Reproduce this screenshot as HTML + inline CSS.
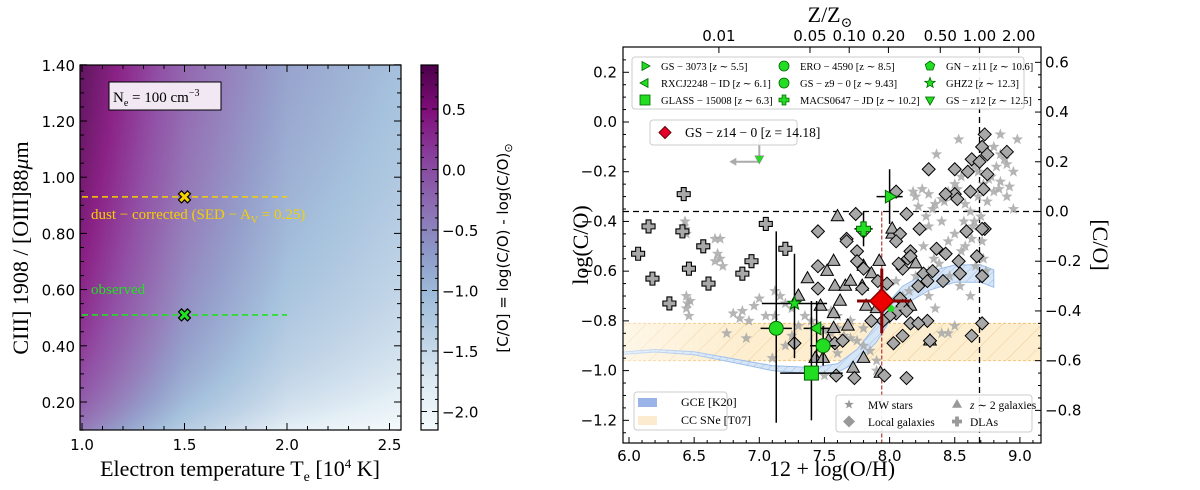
<!DOCTYPE html>
<html><head><meta charset="utf-8"><style>
html,body{margin:0;padding:0;background:#fff;}
#wrap{position:relative;width:1200px;height:490px;overflow:hidden;}
canvas{position:absolute;}
svg{position:absolute;left:0;top:0;}
.tk{font-family:"DejaVu Sans","Liberation Sans",sans-serif;font-size:15px;}
.sr{font-family:"Liberation Serif","DejaVu Serif",serif;}
</style></head><body>
<div id="wrap">
<canvas id="heat" width="321" height="365" style="left:80px;top:65px"></canvas>
<canvas id="cbar" width="17" height="365" style="left:421px;top:65px"></canvas>
<svg id="svg" width="1200" height="490" xmlns="http://www.w3.org/2000/svg"></svg>
</div>
<script>
// ---------- LEFT PANEL DATA ----------
const heatT = [1.0, 1.5, 2.0, 2.56];
const heatG = [0.65, -0.27, -0.85, -1.17];
const obsPoints = [{name:'dust-corrected', T:1.5, R:0.93, color:'#f5d000'},{name:'observed', T:1.5, R:0.51, color:'#22e022'}];
const leftXTicks = [1.0,1.5,2.0,2.5];
const leftYTicks = [0.2,0.4,0.6,0.8,1.0,1.2,1.4];
const cbarTicks = [0.5,0.0,-0.5,-1.0,-1.5,-2.0];

// ---------- RIGHT PANEL DATA ----------
const mwStarsOH = [6.43,6.43,6.44,6.42,6.66,6.70,6.68,6.70,6.66,6.72,6.44,6.45,6.44,6.46,6.47,6.80,6.85,6.92,6.87,6.96,7.00,6.75,7.12,7.16,7.05,7.12,7.20,7.25,6.90,7.10,7.20,7.25,7.30,7.35,7.40,7.45,7.50,7.55,7.60,7.65,7.70,7.75,7.80,7.85,7.90,7.90,7.70,7.60,7.55,7.50,7.60,7.80,7.95,8.05,8.10,8.15,8.20,8.30,8.35,8.40,8.45,8.50,
8.53,8.85,8.98,8.36,8.18,8.20,8.25,8.30,8.35,8.40,8.45,8.50,8.55,8.60,8.65,8.70,8.75,8.80,8.85,8.90,8.95,8.22,8.28,8.33,8.42,8.48,8.52,8.58,8.62,8.68,8.72,8.78,8.82,8.88,8.92,8.60,8.65,8.70,8.75,8.80,8.85,8.45,8.55,8.63,8.72,8.30,8.40,8.50,8.58,8.66,8.74,8.30,8.38,8.46,8.54,8.62,8.26,8.34,8.68,8.76,8.84,8.90,8.95,8.57,8.64,8.71];
const mwStarsCO = [-0.40,-0.43,-0.45,-0.42,-0.47,-0.47,-0.53,-0.55,-0.56,-0.58,-0.70,-0.73,-0.75,-0.78,-0.72,-0.77,-0.79,-0.80,-0.76,-0.74,-0.71,-0.85,-0.68,-0.70,-0.78,-0.78,-0.73,-0.75,-0.87,-0.95,-0.90,-0.86,-0.82,-0.78,-0.80,-0.82,-0.84,-0.85,-0.83,-0.86,-0.87,-0.88,-0.90,-0.92,-0.96,-1.00,-0.80,-0.78,-0.76,-1.02,-0.93,-0.83,-0.68,-0.64,-0.70,-0.68,-0.62,-0.70,-0.75,-0.85,-0.85,-0.82,
-0.07,-0.05,-0.07,-0.13,-0.28,-0.30,-0.27,-0.29,-0.33,-0.31,-0.28,-0.25,-0.22,-0.20,-0.18,-0.15,-0.12,-0.10,-0.13,-0.17,-0.20,-0.34,-0.38,-0.35,-0.32,-0.30,-0.27,-0.33,-0.36,-0.30,-0.25,-0.22,-0.18,-0.15,-0.26,-0.44,-0.40,-0.38,-0.32,-0.28,-0.24,-0.48,-0.52,-0.47,-0.55,-0.42,-0.40,-0.45,-0.50,-0.58,-0.60,-0.60,-0.57,-0.62,-0.66,-0.70,-0.50,-0.55,-0.20,-0.23,-0.27,-0.30,-0.35,-0.40,-0.42,-0.48];
const localGalOH = [7.80,8.13,8.08,8.05,8.16,8.14,8.10,7.80,7.91,7.79,7.98,8.22,8.26,8.33,8.41,8.29,8.08,8.10,8.13,8.05,8.00,7.95,8.29,8.53,8.67,8.71,8.73,8.71,8.63,7.58,8.03,7.96,8.13,8.50,8.73,8.71,8.75,8.90,8.63,8.69,8.30,8.50,8.60,8.75,8.43,8.52,8.62,8.72,8.05,8.23,8.59,8.71,7.74,7.67,7.45,7.67,7.75,7.75,7.45,7.45,8.07,8.16,8.54,8.36,8.43,7.27,7.59,7.73,7.86,8.16,8.22,8.10,8.31,7.64];
const localGalCO = [-0.44,-0.37,-0.45,-0.48,-0.52,-0.55,-0.59,-0.59,-0.64,-0.67,-0.65,-0.66,-0.61,-0.60,-0.64,-0.64,-0.71,-0.74,-0.76,-0.77,-0.78,-0.80,-0.80,-0.56,-0.54,-0.62,-0.43,-0.81,-0.86,-0.89,-0.89,-1.02,-1.03,-0.29,-0.05,-0.10,-0.13,-0.12,-0.15,-0.16,-0.19,-0.19,-0.20,-0.21,-0.29,-0.31,-0.28,-0.27,-0.28,-0.43,-0.44,-0.43,-0.37,-0.47,-0.44,-0.48,-0.52,-0.56,-0.58,-0.67,-0.57,-0.54,-0.61,-0.51,-0.53,-0.89,-1.02,-1.03,-0.80,-0.81,-0.81,-0.86,-0.88,-0.88];
const z2GalOH = [7.37,7.30,7.57,7.52,7.58,7.66,7.80,7.79,7.82,7.90,8.16,7.57,7.57,7.53,7.43,7.49,7.80,7.72,7.93,8.31,7.47,7.60,8.02,8.02,7.92,7.86,7.70,8.20,7.62,7.68];
const z2GalCO = [-0.63,-0.70,-0.56,-0.60,-0.66,-0.66,-0.58,-0.66,-0.74,-0.75,-0.74,-0.77,-0.83,-0.88,-0.95,-0.95,-0.95,-0.99,-1.01,-0.88,-0.74,-0.38,-0.45,-0.43,-0.56,-0.61,-0.64,-0.57,-0.72,-0.82];
const dlaOH = [6.42,6.15,6.41,6.07,6.57,7.05,7.20,6.94,6.46,6.18,6.87,6.61,6.31];
const dlaCO = [-0.29,-0.42,-0.44,-0.53,-0.50,-0.41,-0.51,-0.56,-0.59,-0.63,-0.61,-0.65,-0.73];
const hzNames = ['GS-3073','MACS0647-JD','GHZ2','ERO-4590','RXCJ2248-ID','GS-z9-0','GLASS-15008','GN-z11'];
const hzMarkers = ['tri-right','plus','star','circle','tri-left','circle','square','pentagon'];
const hzOH = [8.00,7.80,7.27,7.13,7.44,7.49,7.40,8.01];
const hzCO = [-0.30,-0.43,-0.73,-0.83,-0.83,-0.90,-1.01,-0.75];
const hzXerr = [0.10,0.07,0.25,0.12,0.10,0.10,0.24,0.10];
const hzYlo = [0.11,0.07,0.22,0.38,0.15,0.08,0.19,0.0];
const hzYhi = [0.11,0.07,0.20,0.39,0.11,0.08,0.29,0.0];
const gsz12 = {OH:7.00, CO:-0.16};
const gsz14 = {OH:7.94, CO:-0.72, xlo:0.19, xhi:0.22, ylo:0.13, yhi:0.13};
const gceOH = [5.95,6.2,6.5,6.8,7.1,7.4,7.6,7.75,7.9,8.0,8.1,8.3,8.5,8.7,8.8];
const gceCO = [-0.93,-0.92,-0.93,-0.96,-0.99,-1.0,-0.99,-0.94,-0.85,-0.76,-0.70,-0.64,-0.61,-0.61,-0.63];
const gceW = [0.01,0.01,0.012,0.015,0.02,0.025,0.035,0.05,0.07,0.08,0.08,0.075,0.07,0.07,0.07];
const ccsne = [-0.96,-0.81];
const solarOH = 8.69, solarCO = -0.36;
const rightXTicks = [6.0,6.5,7.0,7.5,8.0,8.5,9.0];
const rightYTicks = [0.2,0.0,-0.2,-0.4,-0.6,-0.8,-1.0,-1.2];
const rightY2Ticks = [0.6,0.4,0.2,0.0,-0.2,-0.4,-0.6,-0.8];
const topTickLabels = ['0.01','0.05','0.10','0.20','0.50','1.00','2.00'];
const topTickVals = [0.01,0.05,0.10,0.20,0.50,1.00,2.00];

const xL = T => 82 + (T-1)*205;
const yL = R => 402 - (R-0.2)*281;
const yC = v => 109 - (v-0.5)*121;
const xR = v => 629 + (v-6)*130.3;
const yR = v => 122 - v*248.6;

const bupu = [[247,252,253],[224,236,244],[191,211,230],[158,188,218],[140,150,198],[140,107,177],[136,65,157],[129,15,124],[77,0,75]];
function cmap(t){t=Math.max(0,Math.min(1,t));const s=t*8,i=Math.min(7,Math.floor(s)),f=s-i;const a=bupu[i],b=bupu[i+1];return [a[0]+(b[0]-a[0])*f,a[1]+(b[1]-a[1])*f,a[2]+(b[2]-a[2])*f];}
function gOf(T){for(let i=0;i<heatT.length-1;i++){if(T<=heatT[i+1]||i==heatT.length-2){const f=(T-heatT[i])/(heatT[i+1]-heatT[i]);return heatG[i]+(heatG[i+1]-heatG[i])*f;}}}
(function(){
  const c=document.getElementById('heat').getContext('2d');const im=c.createImageData(321,365);
  for(let py=0;py<365;py++){for(let px=0;px<321;px++){
    const T=1+(px+80-82)/205, R=Math.max(0.05,0.2+(402-(py+65))/281);
    const v=Math.log10(R)+gOf(T);const col=cmap((v+2.16)/3.02);
    const k=(py*321+px)*4;
    im.data[k]=col[0]*0.92+255*0.08;im.data[k+1]=col[1]*0.92+255*0.08;im.data[k+2]=col[2]*0.92+255*0.08;im.data[k+3]=255;}}
  c.putImageData(im,0,0);
  const cb=document.getElementById('cbar').getContext('2d');
  for(let py=0;py<365;py++){const v=0.5-(py+65-109)/121;const col=cmap((v+2.16)/3.02);cb.fillStyle=`rgb(${col.map(Math.round).join(',')})`;cb.fillRect(0,py,17,1);}
})();

const NS='http://www.w3.org/2000/svg';
const svg=document.getElementById('svg');
function mk(tag,attrs,parent){const e=document.createElementNS(NS,tag);for(const k in attrs)e.setAttribute(k,attrs[k]);(parent||svg).appendChild(e);return e;}
function txt(x,y,s,cls,extra,parent){const e=mk('text',Object.assign({x:x,y:y,class:cls},extra||{}),parent);e.innerHTML=s;return e;}
function starPath(cx,cy,r){let d='';for(let i=0;i<10;i++){const a=-Math.PI/2+i*Math.PI/5;const rr=i%2?r*0.42:r;d+=(i?'L':'M')+(cx+rr*Math.cos(a)).toFixed(1)+' '+(cy+rr*Math.sin(a)).toFixed(1);}return d+'Z';}
function plusPath(cx,cy,r){const w=r*0.38;return `M${cx-w} ${cy-r}H${cx+w}V${cy-w}H${cx+r}V${cy+w}H${cx+w}V${cy+r}H${cx-w}V${cy+w}H${cx-r}V${cy-w}H${cx-w}Z`;}
function triPath(cx,cy,r,dir){const p={up:[[0,-1],[0.9,0.6],[-0.9,0.6]],down:[[0,1],[0.9,-0.6],[-0.9,-0.6]],right:[[1,0],[-0.6,-0.9],[-0.6,0.9]],left:[[-1,0],[0.6,-0.9],[0.6,0.9]]}[dir];return 'M'+p.map(q=>(cx+q[0]*r).toFixed(1)+' '+(cy+q[1]*r).toFixed(1)).join('L')+'Z';}
function diaPath(cx,cy,r){return `M${cx} ${cy-r}L${cx+r} ${cy}L${cx} ${cy+r}L${cx-r} ${cy}Z`;}
function pentPath(cx,cy,r){let d='';for(let i=0;i<5;i++){const a=-Math.PI/2+i*2*Math.PI/5;d+=(i?'L':'M')+(cx+r*Math.cos(a)).toFixed(1)+' '+(cy+r*Math.sin(a)).toFixed(1);}return d+'Z';}
function marker(type,cx,cy,r,attrs,parent){
  let d;
  if(type==='circle'){return mk('circle',Object.assign({cx:cx,cy:cy,r:r},attrs),parent);}
  if(type==='square'){return mk('rect',Object.assign({x:cx-r,y:cy-r,width:2*r,height:2*r},attrs),parent);}
  if(type==='star')d=starPath(cx,cy,r);else if(type==='plus')d=plusPath(cx,cy,r);else if(type==='diamond')d=diaPath(cx,cy,r);else if(type==='pentagon')d=pentPath(cx,cy,r);
  else d=triPath(cx,cy,r,type.split('-')[1]);
  return mk('path',Object.assign({d:d},attrs),parent);
}

const defs=mk('defs',{});
defs.innerHTML=`<pattern id="hatchO" patternUnits="userSpaceOnUse" width="14" height="14" patternTransform="rotate(45)"><rect width="14" height="14" fill="#fdebc8"/><line x1="0" y1="0" x2="0" y2="14" stroke="#e9b870" stroke-width="0.8"/></pattern>
<pattern id="hatchB" patternUnits="userSpaceOnUse" width="6" height="6" patternTransform="rotate(45)"><rect width="6" height="6" fill="#d6e6f7"/><line x1="0" y1="0" x2="0" y2="6" stroke="#8fb3e6" stroke-width="0.8"/></pattern>
<linearGradient id="gceFade" x1="0" x2="1"><stop offset="0" stop-color="#fff" stop-opacity="0.5"/><stop offset="0.5" stop-color="#fff" stop-opacity="0"/></linearGradient>
<clipPath id="clipR"><rect x="623" y="47" width="418" height="396"/></clipPath>`;

// ================= LEFT PANEL =================
const gL=mk('g',{});
obsPoints.forEach(p=>{
  const ln=mk('line',{x1:xL(1.0),x2:xL(2.0),y1:yL(p.R),y2:yL(p.R),stroke:p.color,'stroke-width':1.6,'stroke-dasharray':'6,4'},gL);
  
  const cx=xL(p.T),cy=yL(p.R),s=6;
  const m=mk('path',{d:`M${cx-s} ${cy-s+3}L${cx-s+3} ${cy-s}L${cx} ${cy-3}L${cx+s-3} ${cy-s}L${cx+s} ${cy-s+3}L${cx+3} ${cy}L${cx+s} ${cy+s-3}L${cx+s-3} ${cy+s}L${cx} ${cy+3}L${cx-s+3} ${cy+s}L${cx-s} ${cy+s-3}L${cx-3} ${cy}Z`,fill:p.color,stroke:'#000','stroke-width':1.2},gL);
  
});
txt(91,219,'dust − corrected (SED − A<tspan font-size="10" dy="4">V</tspan><tspan dy="-4"> = 0.25)</tspan>','sr',{'font-size':15,fill:'#f5d000',},gL);
txt(91,294,'observed','sr',{'font-size':15,fill:'#22e022',},gL);
mk('rect',{x:109,y:82,width:112,height:28,fill:'#f1e8f3',stroke:'#000','stroke-width':1,},gL);
txt(113,102,'N<tspan font-size="10" dy="4">e</tspan><tspan dy="-4"> = 100 cm</tspan><tspan font-size="10" dy="-6">−3</tspan>','sr',{'font-size':15},gL);
mk('rect',{x:80,y:65,width:321,height:365,fill:'none',stroke:'#000','stroke-width':1.2,},gL);
for(let v=1.0;v<=2.561;v+=0.1){const x=xL(v),maj=Math.abs(v*2-Math.round(v*2))<1e-6;const L=maj?7:4;mk('line',{x1:x,x2:x,y1:430,y2:430-L,stroke:'#000'},gL);mk('line',{x1:x,x2:x,y1:65,y2:65+L,stroke:'#000'},gL);}
for(let v=0.1;v<=1.401;v+=0.05){const y=yL(v),maj=Math.abs(v*5-Math.round(v*5))<1e-6;const L=maj?7:4;mk('line',{x1:80,x2:80+L,y1:y,y2:y,stroke:'#000'},gL);mk('line',{x1:401,x2:401-L,y1:y,y2:y,stroke:'#000'},gL);}
leftXTicks.forEach(v=>txt(xL(v),450,v.toFixed(1),'tk',{'text-anchor':'middle','font-size':17,},gL));
leftYTicks.forEach(v=>txt(75,yL(v)+6,v.toFixed(2),'tk',{'text-anchor':'end','font-size':17,},gL));
txt(240,476,'Electron temperature T<tspan font-size="14" dy="5">e</tspan><tspan dy="-5"> [10</tspan><tspan font-size="13" dy="-8">4</tspan><tspan dy="8"> K]</tspan>','sr',{'text-anchor':'middle','font-size':22,},gL);
txt(0,0,'CIII] 1908 / [OIII]88<tspan font-style="italic">μ</tspan>m','sr',{'text-anchor':'middle','font-size':22,transform:'translate(28,248) rotate(-90)',},gL);
mk('rect',{x:421,y:65,width:17,height:365,fill:'none',stroke:'#000','stroke-width':1.2,},gL);
for(let v=-2.1;v<=0.86;v+=0.1){const y=yC(v),maj=Math.abs(v*2-Math.round(v*2))<1e-6;mk('line',{x1:438,x2:438-(maj?6:3),y1:y,y2:y,stroke:'#000'},gL);mk('line',{x1:421,x2:421+(maj?6:3),y1:y,y2:y,stroke:'#000'},gL);}
cbarTicks.forEach(v=>txt(442,yC(v)+6,(v<0?'−':'')+Math.abs(v).toFixed(1),'tk',{'font-size':17,},gL));
txt(0,0,'[C/O] = log(C/O) - log(C/O)<tspan font-size="11" dy="4">⊙</tspan>','tk',{'text-anchor':'middle','font-size':15,transform:'translate(508,248) rotate(-90)',},gL);

// ================= RIGHT PANEL =================
const gR=mk('g',{});
const gC=mk('g',{'clip-path':'url(#clipR)'},gR);
const cc=mk('rect',{x:623,width:418,y:yR(ccsne[1]),height:yR(ccsne[0])-yR(ccsne[1]),fill:'url(#hatchO)',opacity:0.85},gC);

[0,1].forEach(i=>mk('line',{x1:623,x2:1041,y1:yR(ccsne[i]),y2:yR(ccsne[i]),stroke:'#f0c070','stroke-width':0.9,'stroke-dasharray':'3,2'},gC));
{let up=[],lo=[];gceOH.forEach((v,i)=>{up.push(xR(v).toFixed(1)+' '+yR(gceCO[i]+gceW[i]/2).toFixed(1));lo.unshift(xR(v).toFixed(1)+' '+yR(gceCO[i]-gceW[i]/2).toFixed(1));});
const gp=mk('path',{d:'M'+up.join('L')+'L'+lo.join('L')+'Z',fill:'url(#hatchB)',stroke:'#9cbde8','stroke-width':1},gC);

mk('rect',{x:623,y:yR(-0.8),width:xR(7.8)-623,height:yR(-1.1)-yR(-0.8),fill:'url(#gceFade)'},gC);}
mk('line',{x1:623,x2:1041,y1:yR(solarCO),y2:yR(solarCO),stroke:'#000','stroke-width':1.3,'stroke-dasharray':'6,4',},gC);
mk('line',{x1:xR(solarOH),x2:xR(solarOH),y1:47,y2:443,stroke:'#000','stroke-width':1.3,'stroke-dasharray':'6,4',},gC);
mk('line',{x1:xR(gsz14.OH),x2:xR(gsz14.OH),y1:yR(solarCO),y2:443,stroke:'#a01010','stroke-width':1,'stroke-dasharray':'4,2',},gC);
mwStarsOH.forEach((v,i)=>{const m=marker('star',xR(v),yR(mwStarsCO[i]),6,{fill:'#a8a8a8','fill-opacity':0.85},gC);
});
dlaOH.forEach((v,i)=>{const m=marker('plus',xR(v),yR(dlaCO[i]),6.5,{fill:'#a8a8a8',stroke:'#000','stroke-width':1.1},gC);
});
z2GalOH.forEach((v,i)=>{const m=marker('tri-up',xR(v),yR(z2GalCO[i]),7,{fill:'#a8a8a8',stroke:'#000','stroke-width':1},gC);
});
localGalOH.forEach((v,i)=>{const m=marker('diamond',xR(v),yR(localGalCO[i]),6.5,{fill:'#a8a8a8',stroke:'#000','stroke-width':1},gC);
});
hzNames.forEach((n,i)=>{const cx=xR(hzOH[i]),cy=yR(hzCO[i]);const col=i===7?'#aaa':'#000';
  mk('line',{x1:xR(hzOH[i]-hzXerr[i]),x2:xR(hzOH[i]+hzXerr[i]),y1:cy,y2:cy,stroke:col,'stroke-width':i===7?2.5:1.5},gC);
  if(hzYlo[i]>0)mk('line',{x1:cx,x2:cx,y1:yR(hzCO[i]+hzYhi[i]),y2:yR(hzCO[i]-hzYlo[i]),stroke:col,'stroke-width':1.5},gC);
  const m=marker(hzMarkers[i],cx,cy,i===7?4:7,{fill:'#22dd22',stroke:i===7?'none':'#006600','stroke-width':1},gC);
  
});
{const cx=xR(gsz12.OH),cy=yR(gsz12.CO);
mk('line',{x1:cx,x2:cx,y1:yR(gsz12.CO+0.09),y2:cy,stroke:'#aaa','stroke-width':2},gC);
mk('line',{x1:cx,x2:cx-26,y1:cy,y2:cy,stroke:'#aaa','stroke-width':2},gC);
mk('path',{d:`M${cx-30} ${cy}L${cx-23} ${cy-4}L${cx-23} ${cy+4}Z`,fill:'#aaa'},gC);
const m=marker('tri-down',cx,cy-3,5,{fill:'#22dd22',stroke:'#888','stroke-width':0.6},gC);
}
{const cx=xR(gsz14.OH),cy=yR(gsz14.CO);
mk('line',{x1:xR(gsz14.OH-gsz14.xlo),x2:xR(gsz14.OH+gsz14.xhi),y1:cy,y2:cy,stroke:'#8b0000','stroke-width':3},gC);
mk('line',{x1:cx,x2:cx,y1:yR(gsz14.CO+gsz14.yhi),y2:yR(gsz14.CO-gsz14.ylo),stroke:'#8b0000','stroke-width':3},gC);
const m=marker('diamond',cx,cy,12,{fill:'#ee0000',stroke:'#8b0000','stroke-width':1.5},gC);
}
mk('rect',{x:623,y:47,width:418,height:396,fill:'none',stroke:'#000','stroke-width':1.2,},gR);
for(let v=6.0;v<=9.15;v+=0.1){const x=xR(v),maj=Math.abs(v*2-Math.round(v*2))<1e-6;mk('line',{x1:x,x2:x,y1:443,y2:443-(maj?6:3),stroke:'#000'},gR);}
for(let v=-1.25;v<=0.3;v+=0.05){const y=yR(v),maj=Math.abs(v*5-Math.round(v*5))<1e-6;mk('line',{x1:623,x2:623+(maj?6:3),y1:y,y2:y,stroke:'#000'},gR);}
for(let v=-0.9;v<=0.65;v+=0.05){const y=yR(v-0.36),maj=Math.abs(v*5-Math.round(v*5))<1e-6;mk('line',{x1:1041,x2:1041-(maj?6:3),y1:y,y2:y,stroke:'#000'},gR);}
topTickVals.forEach(z=>{const x=xR(Math.log10(z)+solarOH);mk('line',{x1:x,x2:x,y1:47,y2:53,stroke:'#000'},gR);});
rightXTicks.forEach(v=>txt(xR(v),461,v.toFixed(1),'tk',{'text-anchor':'middle',},gR));
rightYTicks.forEach(v=>txt(617,yR(v)+5,(v<0?'−':'')+Math.abs(v).toFixed(1),'tk',{'text-anchor':'end',},gR));
rightY2Ticks.forEach(v=>txt(1045,yR(v-0.36)+5,(v<0?'−':'')+Math.abs(v).toFixed(1),'tk',{},gR));
topTickLabels.forEach((s,i)=>txt(xR(Math.log10(topTickVals[i])+solarOH),41,s,'tk',{'text-anchor':'middle',},gR));
txt(832,476,'12 + log(O/H)','sr',{'text-anchor':'middle','font-size':22,},gR);
txt(830,22,'Z/Z<tspan font-size="14" dy="5">⊙</tspan>','sr',{'text-anchor':'middle','font-size':22,},gR);
txt(0,0,'log(C/O)','sr',{'text-anchor':'middle','font-size':22,transform:'translate(588,245) rotate(-90)',},gR);
txt(0,0,'[C/O]','sr',{'text-anchor':'middle','font-size':22,transform:'translate(1093,245) rotate(90)',},gR);

function legBox(x,y,w,h,name){mk('rect',{x:x,y:y,width:w,height:h,rx:3,fill:'#fff','fill-opacity':0.9,stroke:'#ccc','stroke-width':1,},gR);}
legBox(632,57,392,52,'highz-legend');
const legCols=[[645,661],[784,800],[930,946]];
const legItems=[['tri-right','GS − 3073 [<tspan font-style="italic">z</tspan> ∼ 5.5]'],['tri-left','RXCJ2248 − ID [<tspan font-style="italic">z</tspan> ∼ 6.1]'],['square','GLASS − 15008 [<tspan font-style="italic">z</tspan> ∼ 6.3]'],
['circle','ERO − 4590 [z ∼ 8.5]'],['circle','GS − z9 − 0 [<tspan font-style="italic">z</tspan> ∼ 9.43]'],['plus','MACS0647 − JD [<tspan font-style="italic">z</tspan> ∼ 10.2]'],
['pentagon','GN − z11 [<tspan font-style="italic">z</tspan> ∼ 10.6]'],['star','GHZ2 [<tspan font-style="italic">z</tspan> ∼ 12.3]'],['tri-down','GS − z12 [<tspan font-style="italic">z</tspan> ∼ 12.5]']];
legItems.forEach((it,i)=>{const c=legCols[Math.floor(i/3)],y=66+(i%3)*17;
  marker(it[0],c[0],y,it[0]==='star'?5.5:5,{fill:'#22dd22',stroke:'#006600','stroke-width':0.8},gR);
  txt(c[1],y+4,it[1],'sr',{'font-size':10.5,},gR);});
legBox(650,120,147,25,'gsz14-legend');
marker('diamond',665,132.5,6,{fill:'#e8002a',stroke:'#600','stroke-width':1},gR);
txt(685,137,'GS − z14 − 0 [z = 14.18]','sr',{'font-size':13.5,},gR);
legBox(634,392,93,38,'model-legend');
mk('rect',{x:638,y:398,width:19,height:9,fill:'#9ab4ea'},gR);
mk('rect',{x:638,y:416,width:19,height:9,fill:'#fdebcf'},gR);
txt(681,406,'GCE [K20]','sr',{'font-size':12,},gR);
txt(681,424,'CC SNe [T07]','sr',{'font-size':12,},gR);
legBox(836,395,196,37,'sample-legend');
marker('star',849,404.5,5,{fill:'#999'},gR);
marker('diamond',849,421.5,6,{fill:'#999'},gR);
marker('tri-up',957,404.5,5.5,{fill:'#999'},gR);
marker('plus',957,421.5,5,{fill:'#999'},gR);
txt(868,409,'MW stars','sr',{'font-size':11.5,},gR);
txt(868,426,'Local galaxies','sr',{'font-size':11.5,},gR);
txt(970,409,'<tspan font-style="italic">z</tspan> ∼ 2 galaxies','sr',{'font-size':11.5,},gR);
txt(970,426,'DLAs','sr',{'font-size':11.5,},gR);
</script>
</body></html>
